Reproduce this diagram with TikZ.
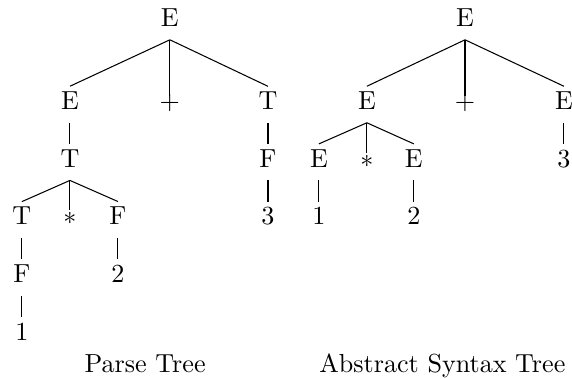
\documentclass[tikz,border=0pt]{standalone}
\begin{document}
\begin{tikzpicture}[x=1pt,y=-1pt,
  tn/.style={anchor=base, inner xsep=0pt, inner ysep=1.9pt, text depth=3pt},
  opn/.style={tn, text height=2.9pt},
  astn/.style={tn, text height=3.5pt},
  captext/.style={anchor=base, inner sep=0pt}]
\useasboundingbox (0,0) rectangle (219.2,145.2);
% Parse tree
\node[tn] (r)   at (65.1,10.15) {E};
\node[tn] (e1)  at (26.8,41.95) {E};
\node[opn] (p1) at (65.1,41.95) {+};
\node[tn] (t1)  at (102.7,41.95) {T};
\node[tn] (t2)  at (26.8,64.04) {T};
\node[tn] (f1)  at (102.7,64.04) {F};
\node[tn] (t3)  at (8.4,86.13) {T};
\node[astn] (m1) at (26.8,86.13) {$*$};
\node[tn] (f2)  at (45.2,86.13) {F};
\node[tn] (n3)  at (102.7,86.13) {3};
\node[tn] (f3)  at (8.4,108.2) {F};
\node[tn] (n2)  at (45.2,108.2) {2};
\node[tn] (n1)  at (8.4,130.3) {1};
\draw (r.south) -- (e1.north);
\draw (r.south) -- (p1.north);
\draw (r.south) -- (t1.north);
\draw (e1.south) -- (t2.north);
\draw (t1.south) -- (f1.north);
\draw (t2.south) -- (t3.north);
\draw (t2.south) -- (m1.north);
\draw (t2.south) -- (f2.north);
\draw (f1.south) -- (n3.north);
\draw (t3.south) -- (f3.north);
\draw (f2.south) -- (n2.north);
\draw (f3.south) -- (n1.north);
% Abstract syntax tree
\node[tn] (ar)  at (178.2,10.15) {E};
\node[tn] (ae1) at (140.6,41.95) {E};
\node[opn] (ap) at (178.2,41.95) {+};
\node[tn] (ae2) at (216.1,41.95) {E};
\node[tn] (ae3) at (122.2,64.04) {E};
\node[astn] (am) at (140.6,64.04) {$*$};
\node[tn] (ae4) at (158.6,64.04) {E};
\node[tn] (a3)  at (216.1,64.04) {3};
\node[tn] (a1)  at (122.2,86.13) {1};
\node[tn] (a2)  at (158.6,86.13) {2};
\draw (ar.south) -- (ae1.north);
\draw (ar.south) -- (ap.north);
\draw (ar.south) -- (ae2.north);
\draw (ae1.south) -- (ae3.north);
\draw (ae1.south) -- (am.north);
\draw (ae1.south) -- (ae4.north);
\draw (ae2.south) -- (a3.north);
\draw (ae3.south) -- (a1.north);
\draw (ae4.south) -- (a2.north);
% captions
\node[captext] (c1) at (55.6,142.9) {Parse Tree};
\node[captext] (c2) at (169.5,142.9) {Abstract Syntax Tree};
\end{tikzpicture}
\end{document}
